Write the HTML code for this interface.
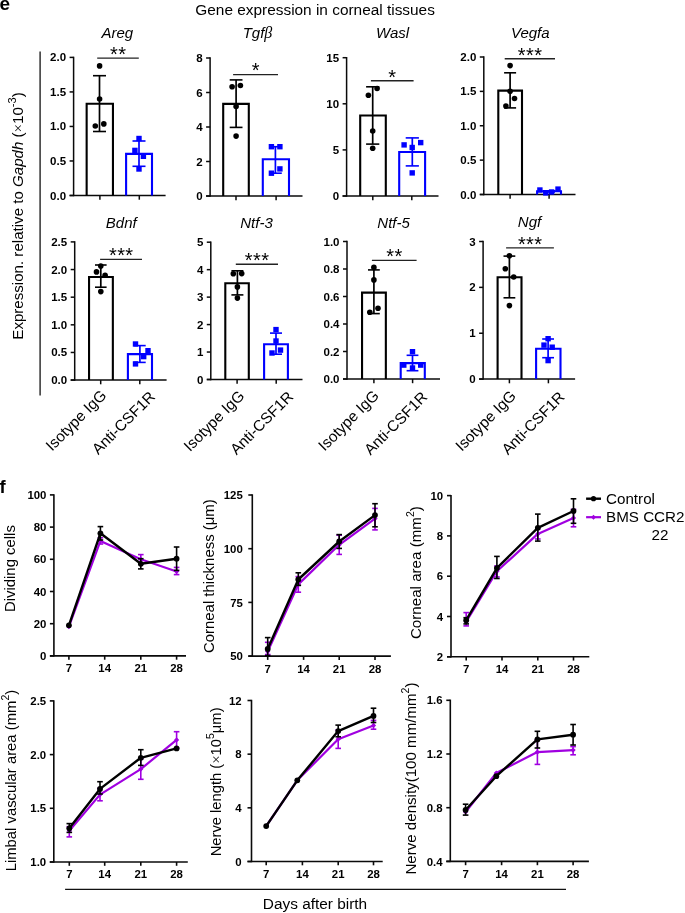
<!DOCTYPE html>
<html><head><meta charset="utf-8"><style>
html,body{margin:0;padding:0;background:#fff;}
svg{display:block;font-family:'Liberation Sans', sans-serif;will-change:transform;filter:blur(0.3px);}
</style></head><body>
<svg width="685" height="913" viewBox="0 0 685 913">
<rect width="685" height="913" fill="#fff"/>
<line x1="73.60" y1="56.70" x2="73.60" y2="196.20" stroke="#0a0a0a" stroke-width="1.5" stroke-linecap="butt"/>
<line x1="69.60" y1="195.50" x2="165.60" y2="195.50" stroke="#0a0a0a" stroke-width="1.5" stroke-linecap="butt"/>
<line x1="69.60" y1="195.50" x2="73.60" y2="195.50" stroke="#0a0a0a" stroke-width="1.5" stroke-linecap="butt"/>
<text x="66.10" y="199.50" font-size="11.5" text-anchor="end" font-weight="bold" font-style="normal" fill="#000" >0.0</text>
<line x1="69.60" y1="160.97" x2="73.60" y2="160.97" stroke="#0a0a0a" stroke-width="1.5" stroke-linecap="butt"/>
<text x="66.10" y="164.97" font-size="11.5" text-anchor="end" font-weight="bold" font-style="normal" fill="#000" >0.5</text>
<line x1="69.60" y1="126.45" x2="73.60" y2="126.45" stroke="#0a0a0a" stroke-width="1.5" stroke-linecap="butt"/>
<text x="66.10" y="130.45" font-size="11.5" text-anchor="end" font-weight="bold" font-style="normal" fill="#000" >1.0</text>
<line x1="69.60" y1="91.93" x2="73.60" y2="91.93" stroke="#0a0a0a" stroke-width="1.5" stroke-linecap="butt"/>
<text x="66.10" y="95.93" font-size="11.5" text-anchor="end" font-weight="bold" font-style="normal" fill="#000" >1.5</text>
<line x1="69.60" y1="57.40" x2="73.60" y2="57.40" stroke="#0a0a0a" stroke-width="1.5" stroke-linecap="butt"/>
<text x="66.10" y="61.40" font-size="11.5" text-anchor="end" font-weight="bold" font-style="normal" fill="#000" >2.0</text>
<line x1="99.90" y1="195.50" x2="99.90" y2="199.70" stroke="#0a0a0a" stroke-width="1.5" stroke-linecap="butt"/>
<line x1="139.30" y1="195.50" x2="139.30" y2="199.70" stroke="#0a0a0a" stroke-width="1.5" stroke-linecap="butt"/>
<path d="M86.65,195.50 V103.70 H112.95 V195.50" fill="none" stroke="#000" stroke-width="2.1" stroke-linejoin="miter"/>
<path d="M126.10,195.50 V153.90 H152.00 V195.50" fill="none" stroke="#0000ff" stroke-width="2.1" stroke-linejoin="miter"/>
<line x1="99.50" y1="75.70" x2="99.50" y2="131.50" stroke="#000" stroke-width="1.7" stroke-linecap="butt"/>
<line x1="93.00" y1="75.70" x2="106.00" y2="75.70" stroke="#000" stroke-width="1.6" stroke-linecap="butt"/>
<line x1="93.00" y1="131.50" x2="106.00" y2="131.50" stroke="#000" stroke-width="1.6" stroke-linecap="butt"/>
<line x1="139.00" y1="141.00" x2="139.00" y2="166.30" stroke="#0000ff" stroke-width="1.7" stroke-linecap="butt"/>
<line x1="132.50" y1="141.00" x2="145.50" y2="141.00" stroke="#0000ff" stroke-width="1.6" stroke-linecap="butt"/>
<line x1="132.50" y1="166.30" x2="145.50" y2="166.30" stroke="#0000ff" stroke-width="1.6" stroke-linecap="butt"/>
<circle cx="99.60" cy="65.90" r="2.8" fill="#000"/>
<circle cx="99.60" cy="99.00" r="2.8" fill="#000"/>
<circle cx="95.30" cy="126.00" r="2.8" fill="#000"/>
<circle cx="103.80" cy="123.90" r="2.8" fill="#000"/>
<rect x="136.30" y="135.80" width="5.4" height="5.4" fill="#0000ff"/>
<rect x="132.20" y="147.70" width="5.4" height="5.4" fill="#0000ff"/>
<rect x="140.70" y="153.60" width="5.4" height="5.4" fill="#0000ff"/>
<rect x="136.30" y="166.30" width="5.4" height="5.4" fill="#0000ff"/>
<line x1="97.20" y1="58.10" x2="138.80" y2="58.10" stroke="#222" stroke-width="1.4" stroke-linecap="butt"/>
<text x="118.20" y="60.90" font-size="20" text-anchor="middle" font-weight="normal" font-style="normal" fill="#000" letter-spacing="0.4">**</text>
<text x="117.30" y="37.70" font-size="15" text-anchor="middle" font-weight="normal" font-style="italic" fill="#000" >Areg</text>
<line x1="210.10" y1="57.30" x2="210.10" y2="196.70" stroke="#0a0a0a" stroke-width="1.5" stroke-linecap="butt"/>
<line x1="206.10" y1="196.00" x2="302.50" y2="196.00" stroke="#0a0a0a" stroke-width="1.5" stroke-linecap="butt"/>
<line x1="206.10" y1="196.00" x2="210.10" y2="196.00" stroke="#0a0a0a" stroke-width="1.5" stroke-linecap="butt"/>
<text x="202.60" y="200.00" font-size="11.5" text-anchor="end" font-weight="bold" font-style="normal" fill="#000" >0</text>
<line x1="206.10" y1="161.50" x2="210.10" y2="161.50" stroke="#0a0a0a" stroke-width="1.5" stroke-linecap="butt"/>
<text x="202.60" y="165.50" font-size="11.5" text-anchor="end" font-weight="bold" font-style="normal" fill="#000" >2</text>
<line x1="206.10" y1="127.00" x2="210.10" y2="127.00" stroke="#0a0a0a" stroke-width="1.5" stroke-linecap="butt"/>
<text x="202.60" y="131.00" font-size="11.5" text-anchor="end" font-weight="bold" font-style="normal" fill="#000" >4</text>
<line x1="206.10" y1="92.50" x2="210.10" y2="92.50" stroke="#0a0a0a" stroke-width="1.5" stroke-linecap="butt"/>
<text x="202.60" y="96.50" font-size="11.5" text-anchor="end" font-weight="bold" font-style="normal" fill="#000" >6</text>
<line x1="206.10" y1="58.00" x2="210.10" y2="58.00" stroke="#0a0a0a" stroke-width="1.5" stroke-linecap="butt"/>
<text x="202.60" y="62.00" font-size="11.5" text-anchor="end" font-weight="bold" font-style="normal" fill="#000" >8</text>
<line x1="236.00" y1="196.00" x2="236.00" y2="200.20" stroke="#0a0a0a" stroke-width="1.5" stroke-linecap="butt"/>
<line x1="276.10" y1="196.00" x2="276.10" y2="200.20" stroke="#0a0a0a" stroke-width="1.5" stroke-linecap="butt"/>
<path d="M223.20,196.00 V103.90 H248.80 V196.00" fill="none" stroke="#000" stroke-width="2.1" stroke-linejoin="miter"/>
<path d="M262.80,196.00 V159.20 H289.00 V196.00" fill="none" stroke="#0000ff" stroke-width="2.1" stroke-linejoin="miter"/>
<line x1="236.10" y1="79.90" x2="236.10" y2="127.40" stroke="#000" stroke-width="1.7" stroke-linecap="butt"/>
<line x1="229.70" y1="79.90" x2="242.50" y2="79.90" stroke="#000" stroke-width="1.6" stroke-linecap="butt"/>
<line x1="229.70" y1="127.40" x2="242.50" y2="127.40" stroke="#000" stroke-width="1.6" stroke-linecap="butt"/>
<line x1="275.40" y1="146.70" x2="275.40" y2="173.20" stroke="#0000ff" stroke-width="1.7" stroke-linecap="butt"/>
<line x1="269.00" y1="146.70" x2="281.80" y2="146.70" stroke="#0000ff" stroke-width="1.6" stroke-linecap="butt"/>
<line x1="269.00" y1="173.20" x2="281.80" y2="173.20" stroke="#0000ff" stroke-width="1.6" stroke-linecap="butt"/>
<circle cx="232.10" cy="86.80" r="2.8" fill="#000"/>
<circle cx="240.40" cy="85.50" r="2.8" fill="#000"/>
<circle cx="236.10" cy="106.50" r="2.8" fill="#000"/>
<circle cx="236.10" cy="136.10" r="2.8" fill="#000"/>
<rect x="268.70" y="144.00" width="5.4" height="5.4" fill="#0000ff"/>
<rect x="277.20" y="144.00" width="5.4" height="5.4" fill="#0000ff"/>
<rect x="277.20" y="166.20" width="5.4" height="5.4" fill="#0000ff"/>
<rect x="268.70" y="170.50" width="5.4" height="5.4" fill="#0000ff"/>
<line x1="233.10" y1="74.60" x2="278.00" y2="74.60" stroke="#222" stroke-width="1.4" stroke-linecap="butt"/>
<text x="255.75" y="77.40" font-size="20" text-anchor="middle" font-weight="normal" font-style="normal" fill="#000" letter-spacing="0.4">*</text>
<text x="257.50" y="37.70" font-size="15" text-anchor="middle" font-weight="normal" font-style="italic" fill="#000" >Tgf<tspan font-family="Liberation Serif" font-size="16">&#946;</tspan></text>
<line x1="346.60" y1="57.00" x2="346.60" y2="196.70" stroke="#0a0a0a" stroke-width="1.5" stroke-linecap="butt"/>
<line x1="342.60" y1="196.00" x2="438.50" y2="196.00" stroke="#0a0a0a" stroke-width="1.5" stroke-linecap="butt"/>
<line x1="342.60" y1="196.00" x2="346.60" y2="196.00" stroke="#0a0a0a" stroke-width="1.5" stroke-linecap="butt"/>
<text x="339.10" y="200.00" font-size="11.5" text-anchor="end" font-weight="bold" font-style="normal" fill="#000" >0</text>
<line x1="342.60" y1="149.90" x2="346.60" y2="149.90" stroke="#0a0a0a" stroke-width="1.5" stroke-linecap="butt"/>
<text x="339.10" y="153.90" font-size="11.5" text-anchor="end" font-weight="bold" font-style="normal" fill="#000" >5</text>
<line x1="342.60" y1="103.80" x2="346.60" y2="103.80" stroke="#0a0a0a" stroke-width="1.5" stroke-linecap="butt"/>
<text x="339.10" y="107.80" font-size="11.5" text-anchor="end" font-weight="bold" font-style="normal" fill="#000" >10</text>
<line x1="342.60" y1="57.70" x2="346.60" y2="57.70" stroke="#0a0a0a" stroke-width="1.5" stroke-linecap="butt"/>
<text x="339.10" y="61.70" font-size="11.5" text-anchor="end" font-weight="bold" font-style="normal" fill="#000" >15</text>
<line x1="372.80" y1="196.00" x2="372.80" y2="200.20" stroke="#0a0a0a" stroke-width="1.5" stroke-linecap="butt"/>
<line x1="411.80" y1="196.00" x2="411.80" y2="200.20" stroke="#0a0a0a" stroke-width="1.5" stroke-linecap="butt"/>
<path d="M360.20,196.00 V115.50 H385.80 V196.00" fill="none" stroke="#000" stroke-width="2.1" stroke-linejoin="miter"/>
<path d="M399.20,196.00 V152.00 H425.10 V196.00" fill="none" stroke="#0000ff" stroke-width="2.1" stroke-linejoin="miter"/>
<line x1="372.70" y1="86.80" x2="372.70" y2="144.10" stroke="#000" stroke-width="1.7" stroke-linecap="butt"/>
<line x1="366.10" y1="86.80" x2="379.30" y2="86.80" stroke="#000" stroke-width="1.6" stroke-linecap="butt"/>
<line x1="366.10" y1="144.10" x2="379.30" y2="144.10" stroke="#000" stroke-width="1.6" stroke-linecap="butt"/>
<line x1="412.30" y1="137.90" x2="412.30" y2="165.90" stroke="#0000ff" stroke-width="1.7" stroke-linecap="butt"/>
<line x1="405.70" y1="137.90" x2="418.90" y2="137.90" stroke="#0000ff" stroke-width="1.6" stroke-linecap="butt"/>
<line x1="405.70" y1="165.90" x2="418.90" y2="165.90" stroke="#0000ff" stroke-width="1.6" stroke-linecap="butt"/>
<circle cx="368.40" cy="95.30" r="2.8" fill="#000"/>
<circle cx="377.10" cy="88.50" r="2.8" fill="#000"/>
<circle cx="372.70" cy="131.00" r="2.8" fill="#000"/>
<circle cx="372.70" cy="148.20" r="2.8" fill="#000"/>
<rect x="401.40" y="142.20" width="5.4" height="5.4" fill="#0000ff"/>
<rect x="409.50" y="144.80" width="5.4" height="5.4" fill="#0000ff"/>
<rect x="418.00" y="139.90" width="5.4" height="5.4" fill="#0000ff"/>
<rect x="409.50" y="170.20" width="5.4" height="5.4" fill="#0000ff"/>
<line x1="370.90" y1="80.80" x2="413.60" y2="80.80" stroke="#222" stroke-width="1.4" stroke-linecap="butt"/>
<text x="392.45" y="83.60" font-size="20" text-anchor="middle" font-weight="normal" font-style="normal" fill="#000" letter-spacing="0.4">*</text>
<text x="392.60" y="37.70" font-size="15" text-anchor="middle" font-weight="normal" font-style="italic" fill="#000" >Wasl</text>
<line x1="483.80" y1="56.30" x2="483.80" y2="195.20" stroke="#0a0a0a" stroke-width="1.5" stroke-linecap="butt"/>
<line x1="479.80" y1="194.50" x2="575.50" y2="194.50" stroke="#0a0a0a" stroke-width="1.5" stroke-linecap="butt"/>
<line x1="479.80" y1="194.50" x2="483.80" y2="194.50" stroke="#0a0a0a" stroke-width="1.5" stroke-linecap="butt"/>
<text x="476.30" y="198.50" font-size="11.5" text-anchor="end" font-weight="bold" font-style="normal" fill="#000" >0.0</text>
<line x1="479.80" y1="160.12" x2="483.80" y2="160.12" stroke="#0a0a0a" stroke-width="1.5" stroke-linecap="butt"/>
<text x="476.30" y="164.12" font-size="11.5" text-anchor="end" font-weight="bold" font-style="normal" fill="#000" >0.5</text>
<line x1="479.80" y1="125.75" x2="483.80" y2="125.75" stroke="#0a0a0a" stroke-width="1.5" stroke-linecap="butt"/>
<text x="476.30" y="129.75" font-size="11.5" text-anchor="end" font-weight="bold" font-style="normal" fill="#000" >1.0</text>
<line x1="479.80" y1="91.38" x2="483.80" y2="91.38" stroke="#0a0a0a" stroke-width="1.5" stroke-linecap="butt"/>
<text x="476.30" y="95.38" font-size="11.5" text-anchor="end" font-weight="bold" font-style="normal" fill="#000" >1.5</text>
<line x1="479.80" y1="57.00" x2="483.80" y2="57.00" stroke="#0a0a0a" stroke-width="1.5" stroke-linecap="butt"/>
<text x="476.30" y="61.00" font-size="11.5" text-anchor="end" font-weight="bold" font-style="normal" fill="#000" >2.0</text>
<line x1="510.10" y1="194.50" x2="510.10" y2="198.70" stroke="#0a0a0a" stroke-width="1.5" stroke-linecap="butt"/>
<line x1="549.10" y1="194.50" x2="549.10" y2="198.70" stroke="#0a0a0a" stroke-width="1.5" stroke-linecap="butt"/>
<path d="M498.30,194.50 V90.60 H522.00 V194.50" fill="none" stroke="#000" stroke-width="2.1" stroke-linejoin="miter"/>
<path d="M537.10,194.50 V191.30 H561.00 V194.50" fill="none" stroke="#0000ff" stroke-width="2.1" stroke-linejoin="miter"/>
<line x1="510.10" y1="72.80" x2="510.10" y2="107.90" stroke="#000" stroke-width="1.7" stroke-linecap="butt"/>
<line x1="504.10" y1="72.80" x2="516.10" y2="72.80" stroke="#000" stroke-width="1.6" stroke-linecap="butt"/>
<line x1="504.10" y1="107.90" x2="516.10" y2="107.90" stroke="#000" stroke-width="1.6" stroke-linecap="butt"/>
<line x1="549.00" y1="190.80" x2="549.00" y2="192.00" stroke="#0000ff" stroke-width="1.7" stroke-linecap="butt"/>
<line x1="543.00" y1="190.80" x2="555.00" y2="190.80" stroke="#0000ff" stroke-width="1.6" stroke-linecap="butt"/>
<line x1="543.00" y1="192.00" x2="555.00" y2="192.00" stroke="#0000ff" stroke-width="1.6" stroke-linecap="butt"/>
<circle cx="510.10" cy="65.60" r="2.8" fill="#000"/>
<circle cx="510.10" cy="91.30" r="2.8" fill="#000"/>
<circle cx="514.50" cy="98.50" r="2.8" fill="#000"/>
<circle cx="505.90" cy="106.10" r="2.8" fill="#000"/>
<rect x="537.20" y="187.30" width="5.4" height="5.4" fill="#0000ff"/>
<rect x="543.10" y="190.20" width="5.4" height="5.4" fill="#0000ff"/>
<rect x="548.90" y="189.30" width="5.4" height="5.4" fill="#0000ff"/>
<rect x="555.30" y="186.40" width="5.4" height="5.4" fill="#0000ff"/>
<line x1="504.70" y1="58.70" x2="555.00" y2="58.70" stroke="#222" stroke-width="1.4" stroke-linecap="butt"/>
<text x="530.05" y="61.50" font-size="20" text-anchor="middle" font-weight="normal" font-style="normal" fill="#000" letter-spacing="0.4">***</text>
<text x="530.30" y="37.70" font-size="15" text-anchor="middle" font-weight="normal" font-style="italic" fill="#000" >Vegfa</text>
<line x1="74.70" y1="241.20" x2="74.70" y2="380.80" stroke="#0a0a0a" stroke-width="1.5" stroke-linecap="butt"/>
<line x1="70.70" y1="380.10" x2="166.60" y2="380.10" stroke="#0a0a0a" stroke-width="1.5" stroke-linecap="butt"/>
<line x1="70.70" y1="380.10" x2="74.70" y2="380.10" stroke="#0a0a0a" stroke-width="1.5" stroke-linecap="butt"/>
<text x="67.20" y="384.10" font-size="11.5" text-anchor="end" font-weight="bold" font-style="normal" fill="#000" >0.0</text>
<line x1="70.70" y1="352.46" x2="74.70" y2="352.46" stroke="#0a0a0a" stroke-width="1.5" stroke-linecap="butt"/>
<text x="67.20" y="356.46" font-size="11.5" text-anchor="end" font-weight="bold" font-style="normal" fill="#000" >0.5</text>
<line x1="70.70" y1="324.82" x2="74.70" y2="324.82" stroke="#0a0a0a" stroke-width="1.5" stroke-linecap="butt"/>
<text x="67.20" y="328.82" font-size="11.5" text-anchor="end" font-weight="bold" font-style="normal" fill="#000" >1.0</text>
<line x1="70.70" y1="297.18" x2="74.70" y2="297.18" stroke="#0a0a0a" stroke-width="1.5" stroke-linecap="butt"/>
<text x="67.20" y="301.18" font-size="11.5" text-anchor="end" font-weight="bold" font-style="normal" fill="#000" >1.5</text>
<line x1="70.70" y1="269.54" x2="74.70" y2="269.54" stroke="#0a0a0a" stroke-width="1.5" stroke-linecap="butt"/>
<text x="67.20" y="273.54" font-size="11.5" text-anchor="end" font-weight="bold" font-style="normal" fill="#000" >2.0</text>
<line x1="70.70" y1="241.90" x2="74.70" y2="241.90" stroke="#0a0a0a" stroke-width="1.5" stroke-linecap="butt"/>
<text x="67.20" y="245.90" font-size="11.5" text-anchor="end" font-weight="bold" font-style="normal" fill="#000" >2.5</text>
<line x1="100.70" y1="380.10" x2="100.70" y2="384.30" stroke="#0a0a0a" stroke-width="1.5" stroke-linecap="butt"/>
<line x1="139.80" y1="380.10" x2="139.80" y2="384.30" stroke="#0a0a0a" stroke-width="1.5" stroke-linecap="butt"/>
<path d="M89.05,380.10 V277.00 H112.85 V380.10" fill="none" stroke="#000" stroke-width="2.1" stroke-linejoin="miter"/>
<path d="M127.90,380.10 V354.10 H152.00 V380.10" fill="none" stroke="#0000ff" stroke-width="2.1" stroke-linejoin="miter"/>
<line x1="100.80" y1="265.00" x2="100.80" y2="287.20" stroke="#000" stroke-width="1.7" stroke-linecap="butt"/>
<line x1="95.00" y1="265.00" x2="106.60" y2="265.00" stroke="#000" stroke-width="1.6" stroke-linecap="butt"/>
<line x1="95.00" y1="287.20" x2="106.60" y2="287.20" stroke="#000" stroke-width="1.6" stroke-linecap="butt"/>
<line x1="139.90" y1="345.60" x2="139.90" y2="362.40" stroke="#0000ff" stroke-width="1.7" stroke-linecap="butt"/>
<line x1="134.10" y1="345.60" x2="145.70" y2="345.60" stroke="#0000ff" stroke-width="1.6" stroke-linecap="butt"/>
<line x1="134.10" y1="362.40" x2="145.70" y2="362.40" stroke="#0000ff" stroke-width="1.6" stroke-linecap="butt"/>
<circle cx="100.80" cy="266.10" r="2.8" fill="#000"/>
<circle cx="96.50" cy="271.90" r="2.8" fill="#000"/>
<circle cx="105.10" cy="275.30" r="2.8" fill="#000"/>
<circle cx="100.80" cy="291.60" r="2.8" fill="#000"/>
<rect x="132.80" y="341.30" width="5.4" height="5.4" fill="#0000ff"/>
<rect x="145.30" y="348.00" width="5.4" height="5.4" fill="#0000ff"/>
<rect x="141.00" y="353.90" width="5.4" height="5.4" fill="#0000ff"/>
<rect x="132.80" y="361.20" width="5.4" height="5.4" fill="#0000ff"/>
<line x1="100.10" y1="259.40" x2="142.00" y2="259.40" stroke="#222" stroke-width="1.4" stroke-linecap="butt"/>
<text x="121.25" y="262.20" font-size="20" text-anchor="middle" font-weight="normal" font-style="normal" fill="#000" letter-spacing="0.4">***</text>
<text x="121.30" y="227.70" font-size="15" text-anchor="middle" font-weight="normal" font-style="italic" fill="#000" >Bdnf</text>
<line x1="210.80" y1="241.50" x2="210.80" y2="380.20" stroke="#0a0a0a" stroke-width="1.5" stroke-linecap="butt"/>
<line x1="206.80" y1="379.50" x2="302.50" y2="379.50" stroke="#0a0a0a" stroke-width="1.5" stroke-linecap="butt"/>
<line x1="206.80" y1="379.50" x2="210.80" y2="379.50" stroke="#0a0a0a" stroke-width="1.5" stroke-linecap="butt"/>
<text x="203.30" y="383.50" font-size="11.5" text-anchor="end" font-weight="bold" font-style="normal" fill="#000" >0</text>
<line x1="206.80" y1="352.04" x2="210.80" y2="352.04" stroke="#0a0a0a" stroke-width="1.5" stroke-linecap="butt"/>
<text x="203.30" y="356.04" font-size="11.5" text-anchor="end" font-weight="bold" font-style="normal" fill="#000" >1</text>
<line x1="206.80" y1="324.58" x2="210.80" y2="324.58" stroke="#0a0a0a" stroke-width="1.5" stroke-linecap="butt"/>
<text x="203.30" y="328.58" font-size="11.5" text-anchor="end" font-weight="bold" font-style="normal" fill="#000" >2</text>
<line x1="206.80" y1="297.12" x2="210.80" y2="297.12" stroke="#0a0a0a" stroke-width="1.5" stroke-linecap="butt"/>
<text x="203.30" y="301.12" font-size="11.5" text-anchor="end" font-weight="bold" font-style="normal" fill="#000" >3</text>
<line x1="206.80" y1="269.66" x2="210.80" y2="269.66" stroke="#0a0a0a" stroke-width="1.5" stroke-linecap="butt"/>
<text x="203.30" y="273.66" font-size="11.5" text-anchor="end" font-weight="bold" font-style="normal" fill="#000" >4</text>
<line x1="206.80" y1="242.20" x2="210.80" y2="242.20" stroke="#0a0a0a" stroke-width="1.5" stroke-linecap="butt"/>
<text x="203.30" y="246.20" font-size="11.5" text-anchor="end" font-weight="bold" font-style="normal" fill="#000" >5</text>
<line x1="237.10" y1="379.50" x2="237.10" y2="383.70" stroke="#0a0a0a" stroke-width="1.5" stroke-linecap="butt"/>
<line x1="276.20" y1="379.50" x2="276.20" y2="383.70" stroke="#0a0a0a" stroke-width="1.5" stroke-linecap="butt"/>
<path d="M225.30,379.50 V283.30 H248.80 V379.50" fill="none" stroke="#000" stroke-width="2.1" stroke-linejoin="miter"/>
<path d="M264.10,379.50 V344.20 H287.90 V379.50" fill="none" stroke="#0000ff" stroke-width="2.1" stroke-linejoin="miter"/>
<line x1="237.40" y1="270.80" x2="237.40" y2="294.90" stroke="#000" stroke-width="1.7" stroke-linecap="butt"/>
<line x1="231.40" y1="270.80" x2="243.40" y2="270.80" stroke="#000" stroke-width="1.6" stroke-linecap="butt"/>
<line x1="231.40" y1="294.90" x2="243.40" y2="294.90" stroke="#000" stroke-width="1.6" stroke-linecap="butt"/>
<line x1="276.00" y1="333.10" x2="276.00" y2="354.20" stroke="#0000ff" stroke-width="1.7" stroke-linecap="butt"/>
<line x1="270.00" y1="333.10" x2="282.00" y2="333.10" stroke="#0000ff" stroke-width="1.6" stroke-linecap="butt"/>
<line x1="270.00" y1="354.20" x2="282.00" y2="354.20" stroke="#0000ff" stroke-width="1.6" stroke-linecap="butt"/>
<circle cx="233.30" cy="273.80" r="2.8" fill="#000"/>
<circle cx="241.70" cy="273.60" r="2.8" fill="#000"/>
<circle cx="237.40" cy="286.90" r="2.8" fill="#000"/>
<circle cx="237.40" cy="298.10" r="2.8" fill="#000"/>
<rect x="273.30" y="326.90" width="5.4" height="5.4" fill="#0000ff"/>
<rect x="273.30" y="338.30" width="5.4" height="5.4" fill="#0000ff"/>
<rect x="269.30" y="350.30" width="5.4" height="5.4" fill="#0000ff"/>
<rect x="277.80" y="347.40" width="5.4" height="5.4" fill="#0000ff"/>
<line x1="235.80" y1="264.20" x2="278.00" y2="264.20" stroke="#222" stroke-width="1.4" stroke-linecap="butt"/>
<text x="257.10" y="267.00" font-size="20" text-anchor="middle" font-weight="normal" font-style="normal" fill="#000" letter-spacing="0.4">***</text>
<text x="256.50" y="227.70" font-size="15" text-anchor="middle" font-weight="normal" font-style="italic" fill="#000" >Ntf-3</text>
<line x1="347.00" y1="240.80" x2="347.00" y2="379.70" stroke="#0a0a0a" stroke-width="1.5" stroke-linecap="butt"/>
<line x1="343.00" y1="379.00" x2="440.00" y2="379.00" stroke="#0a0a0a" stroke-width="1.5" stroke-linecap="butt"/>
<line x1="343.00" y1="379.00" x2="347.00" y2="379.00" stroke="#0a0a0a" stroke-width="1.5" stroke-linecap="butt"/>
<text x="339.50" y="383.00" font-size="11.5" text-anchor="end" font-weight="bold" font-style="normal" fill="#000" >0.0</text>
<line x1="343.00" y1="351.50" x2="347.00" y2="351.50" stroke="#0a0a0a" stroke-width="1.5" stroke-linecap="butt"/>
<text x="339.50" y="355.50" font-size="11.5" text-anchor="end" font-weight="bold" font-style="normal" fill="#000" >0.2</text>
<line x1="343.00" y1="324.00" x2="347.00" y2="324.00" stroke="#0a0a0a" stroke-width="1.5" stroke-linecap="butt"/>
<text x="339.50" y="328.00" font-size="11.5" text-anchor="end" font-weight="bold" font-style="normal" fill="#000" >0.4</text>
<line x1="343.00" y1="296.50" x2="347.00" y2="296.50" stroke="#0a0a0a" stroke-width="1.5" stroke-linecap="butt"/>
<text x="339.50" y="300.50" font-size="11.5" text-anchor="end" font-weight="bold" font-style="normal" fill="#000" >0.6</text>
<line x1="343.00" y1="269.00" x2="347.00" y2="269.00" stroke="#0a0a0a" stroke-width="1.5" stroke-linecap="butt"/>
<text x="339.50" y="273.00" font-size="11.5" text-anchor="end" font-weight="bold" font-style="normal" fill="#000" >0.8</text>
<line x1="343.00" y1="241.50" x2="347.00" y2="241.50" stroke="#0a0a0a" stroke-width="1.5" stroke-linecap="butt"/>
<text x="339.50" y="245.50" font-size="11.5" text-anchor="end" font-weight="bold" font-style="normal" fill="#000" >1.0</text>
<line x1="373.90" y1="379.00" x2="373.90" y2="383.20" stroke="#0a0a0a" stroke-width="1.5" stroke-linecap="butt"/>
<line x1="412.60" y1="379.00" x2="412.60" y2="383.20" stroke="#0a0a0a" stroke-width="1.5" stroke-linecap="butt"/>
<path d="M362.05,379.00 V292.60 H385.85 V379.00" fill="none" stroke="#000" stroke-width="2.1" stroke-linejoin="miter"/>
<path d="M400.70,379.00 V363.10 H424.80 V379.00" fill="none" stroke="#0000ff" stroke-width="2.1" stroke-linejoin="miter"/>
<line x1="373.90" y1="269.90" x2="373.90" y2="313.60" stroke="#000" stroke-width="1.7" stroke-linecap="butt"/>
<line x1="368.00" y1="269.90" x2="379.80" y2="269.90" stroke="#000" stroke-width="1.6" stroke-linecap="butt"/>
<line x1="368.00" y1="313.60" x2="379.80" y2="313.60" stroke="#000" stroke-width="1.6" stroke-linecap="butt"/>
<line x1="412.50" y1="355.30" x2="412.50" y2="370.70" stroke="#0000ff" stroke-width="1.7" stroke-linecap="butt"/>
<line x1="406.60" y1="355.30" x2="418.40" y2="355.30" stroke="#0000ff" stroke-width="1.6" stroke-linecap="butt"/>
<line x1="406.60" y1="370.70" x2="418.40" y2="370.70" stroke="#0000ff" stroke-width="1.6" stroke-linecap="butt"/>
<circle cx="373.90" cy="267.40" r="2.8" fill="#000"/>
<circle cx="373.90" cy="279.90" r="2.8" fill="#000"/>
<circle cx="369.80" cy="312.30" r="2.8" fill="#000"/>
<circle cx="378.00" cy="308.30" r="2.8" fill="#000"/>
<rect x="409.80" y="349.00" width="5.4" height="5.4" fill="#0000ff"/>
<rect x="401.10" y="362.40" width="5.4" height="5.4" fill="#0000ff"/>
<rect x="418.00" y="362.40" width="5.4" height="5.4" fill="#0000ff"/>
<rect x="409.80" y="365.30" width="5.4" height="5.4" fill="#0000ff"/>
<line x1="371.90" y1="260.40" x2="416.60" y2="260.40" stroke="#222" stroke-width="1.4" stroke-linecap="butt"/>
<text x="394.45" y="263.20" font-size="20" text-anchor="middle" font-weight="normal" font-style="normal" fill="#000" letter-spacing="0.4">**</text>
<text x="393.60" y="227.70" font-size="15" text-anchor="middle" font-weight="normal" font-style="italic" fill="#000" >Ntf-5</text>
<line x1="483.10" y1="240.80" x2="483.10" y2="379.80" stroke="#0a0a0a" stroke-width="1.5" stroke-linecap="butt"/>
<line x1="479.10" y1="379.10" x2="575.10" y2="379.10" stroke="#0a0a0a" stroke-width="1.5" stroke-linecap="butt"/>
<line x1="479.10" y1="379.10" x2="483.10" y2="379.10" stroke="#0a0a0a" stroke-width="1.5" stroke-linecap="butt"/>
<text x="475.60" y="383.10" font-size="11.5" text-anchor="end" font-weight="bold" font-style="normal" fill="#000" >0</text>
<line x1="479.10" y1="333.23" x2="483.10" y2="333.23" stroke="#0a0a0a" stroke-width="1.5" stroke-linecap="butt"/>
<text x="475.60" y="337.23" font-size="11.5" text-anchor="end" font-weight="bold" font-style="normal" fill="#000" >1</text>
<line x1="479.10" y1="287.37" x2="483.10" y2="287.37" stroke="#0a0a0a" stroke-width="1.5" stroke-linecap="butt"/>
<text x="475.60" y="291.37" font-size="11.5" text-anchor="end" font-weight="bold" font-style="normal" fill="#000" >2</text>
<line x1="479.10" y1="241.50" x2="483.10" y2="241.50" stroke="#0a0a0a" stroke-width="1.5" stroke-linecap="butt"/>
<text x="475.60" y="245.50" font-size="11.5" text-anchor="end" font-weight="bold" font-style="normal" fill="#000" >3</text>
<line x1="509.40" y1="379.10" x2="509.40" y2="383.30" stroke="#0a0a0a" stroke-width="1.5" stroke-linecap="butt"/>
<line x1="548.40" y1="379.10" x2="548.40" y2="383.30" stroke="#0a0a0a" stroke-width="1.5" stroke-linecap="butt"/>
<path d="M497.60,379.10 V277.30 H521.50 V379.10" fill="none" stroke="#000" stroke-width="2.1" stroke-linejoin="miter"/>
<path d="M536.10,379.10 V348.70 H560.50 V379.10" fill="none" stroke="#0000ff" stroke-width="2.1" stroke-linejoin="miter"/>
<line x1="509.40" y1="256.10" x2="509.40" y2="297.80" stroke="#000" stroke-width="1.7" stroke-linecap="butt"/>
<line x1="503.50" y1="256.10" x2="515.30" y2="256.10" stroke="#000" stroke-width="1.6" stroke-linecap="butt"/>
<line x1="503.50" y1="297.80" x2="515.30" y2="297.80" stroke="#000" stroke-width="1.6" stroke-linecap="butt"/>
<line x1="548.10" y1="339.00" x2="548.10" y2="357.70" stroke="#0000ff" stroke-width="1.7" stroke-linecap="butt"/>
<line x1="542.20" y1="339.00" x2="554.00" y2="339.00" stroke="#0000ff" stroke-width="1.6" stroke-linecap="butt"/>
<line x1="542.20" y1="357.70" x2="554.00" y2="357.70" stroke="#0000ff" stroke-width="1.6" stroke-linecap="butt"/>
<circle cx="509.40" cy="255.80" r="2.8" fill="#000"/>
<circle cx="505.30" cy="268.80" r="2.8" fill="#000"/>
<circle cx="513.70" cy="277.00" r="2.8" fill="#000"/>
<circle cx="509.40" cy="305.60" r="2.8" fill="#000"/>
<rect x="545.40" y="336.00" width="5.4" height="5.4" fill="#0000ff"/>
<rect x="541.30" y="342.40" width="5.4" height="5.4" fill="#0000ff"/>
<rect x="549.50" y="344.50" width="5.4" height="5.4" fill="#0000ff"/>
<rect x="545.40" y="357.90" width="5.4" height="5.4" fill="#0000ff"/>
<line x1="506.10" y1="247.90" x2="553.90" y2="247.90" stroke="#222" stroke-width="1.4" stroke-linecap="butt"/>
<text x="530.20" y="250.70" font-size="20" text-anchor="middle" font-weight="normal" font-style="normal" fill="#000" letter-spacing="0.4">***</text>
<text x="529.50" y="226.50" font-size="15" text-anchor="middle" font-weight="normal" font-style="italic" fill="#000" >Ngf</text>
<line x1="53.90" y1="494.20" x2="53.90" y2="656.60" stroke="#0a0a0a" stroke-width="1.6" stroke-linecap="butt"/>
<line x1="49.90" y1="655.90" x2="186.00" y2="655.90" stroke="#0a0a0a" stroke-width="1.6" stroke-linecap="butt"/>
<line x1="49.90" y1="655.90" x2="53.90" y2="655.90" stroke="#0a0a0a" stroke-width="1.6" stroke-linecap="butt"/>
<text x="46.40" y="660.00" font-size="11.4" text-anchor="end" font-weight="bold" font-style="normal" fill="#000" >0</text>
<line x1="49.90" y1="623.70" x2="53.90" y2="623.70" stroke="#0a0a0a" stroke-width="1.6" stroke-linecap="butt"/>
<text x="46.40" y="627.80" font-size="11.4" text-anchor="end" font-weight="bold" font-style="normal" fill="#000" >20</text>
<line x1="49.90" y1="591.50" x2="53.90" y2="591.50" stroke="#0a0a0a" stroke-width="1.6" stroke-linecap="butt"/>
<text x="46.40" y="595.60" font-size="11.4" text-anchor="end" font-weight="bold" font-style="normal" fill="#000" >40</text>
<line x1="49.90" y1="559.30" x2="53.90" y2="559.30" stroke="#0a0a0a" stroke-width="1.6" stroke-linecap="butt"/>
<text x="46.40" y="563.40" font-size="11.4" text-anchor="end" font-weight="bold" font-style="normal" fill="#000" >60</text>
<line x1="49.90" y1="527.10" x2="53.90" y2="527.10" stroke="#0a0a0a" stroke-width="1.6" stroke-linecap="butt"/>
<text x="46.40" y="531.20" font-size="11.4" text-anchor="end" font-weight="bold" font-style="normal" fill="#000" >80</text>
<line x1="49.90" y1="494.90" x2="53.90" y2="494.90" stroke="#0a0a0a" stroke-width="1.6" stroke-linecap="butt"/>
<text x="46.40" y="499.00" font-size="11.4" text-anchor="end" font-weight="bold" font-style="normal" fill="#000" >100</text>
<line x1="68.90" y1="655.90" x2="68.90" y2="659.70" stroke="#0a0a0a" stroke-width="1.6" stroke-linecap="butt"/>
<text x="68.90" y="672.30" font-size="11.4" text-anchor="middle" font-weight="bold" font-style="normal" fill="#000" >7</text>
<line x1="104.70" y1="655.90" x2="104.70" y2="659.70" stroke="#0a0a0a" stroke-width="1.6" stroke-linecap="butt"/>
<text x="104.70" y="672.30" font-size="11.4" text-anchor="middle" font-weight="bold" font-style="normal" fill="#000" >14</text>
<line x1="140.80" y1="655.90" x2="140.80" y2="659.70" stroke="#0a0a0a" stroke-width="1.6" stroke-linecap="butt"/>
<text x="140.80" y="672.30" font-size="11.4" text-anchor="middle" font-weight="bold" font-style="normal" fill="#000" >21</text>
<line x1="176.60" y1="655.90" x2="176.60" y2="659.70" stroke="#0a0a0a" stroke-width="1.6" stroke-linecap="butt"/>
<text x="176.60" y="672.30" font-size="11.4" text-anchor="middle" font-weight="bold" font-style="normal" fill="#000" >28</text>
<line x1="100.40" y1="537.80" x2="100.40" y2="544.00" stroke="#a000e0" stroke-width="1.6" stroke-linecap="butt"/>
<line x1="97.60" y1="537.80" x2="103.20" y2="537.80" stroke="#a000e0" stroke-width="1.6" stroke-linecap="butt"/>
<line x1="97.60" y1="544.00" x2="103.20" y2="544.00" stroke="#a000e0" stroke-width="1.6" stroke-linecap="butt"/>
<line x1="140.80" y1="554.60" x2="140.80" y2="564.00" stroke="#a000e0" stroke-width="1.6" stroke-linecap="butt"/>
<line x1="138.00" y1="554.60" x2="143.60" y2="554.60" stroke="#a000e0" stroke-width="1.6" stroke-linecap="butt"/>
<line x1="138.00" y1="564.00" x2="143.60" y2="564.00" stroke="#a000e0" stroke-width="1.6" stroke-linecap="butt"/>
<line x1="176.60" y1="567.40" x2="176.60" y2="574.60" stroke="#a000e0" stroke-width="1.6" stroke-linecap="butt"/>
<line x1="173.80" y1="567.40" x2="179.40" y2="567.40" stroke="#a000e0" stroke-width="1.6" stroke-linecap="butt"/>
<line x1="173.80" y1="574.60" x2="179.40" y2="574.60" stroke="#a000e0" stroke-width="1.6" stroke-linecap="butt"/>
<polyline points="68.90,626.70 100.40,540.90 140.80,559.30 176.60,571.50" fill="none" stroke="#a000e0" stroke-width="2.2" stroke-linejoin="round"/>
<path d="M66.30,626.70 L68.90,624.10 L71.50,626.70 L68.90,629.30Z" fill="#a000e0"/>
<path d="M97.80,540.90 L100.40,538.30 L103.00,540.90 L100.40,543.50Z" fill="#a000e0"/>
<path d="M138.20,559.30 L140.80,556.70 L143.40,559.30 L140.80,561.90Z" fill="#a000e0"/>
<path d="M174.00,571.50 L176.60,568.90 L179.20,571.50 L176.60,574.10Z" fill="#a000e0"/>
<line x1="100.40" y1="526.60" x2="100.40" y2="540.00" stroke="#000" stroke-width="1.6" stroke-linecap="butt"/>
<line x1="97.60" y1="526.60" x2="103.20" y2="526.60" stroke="#000" stroke-width="1.6" stroke-linecap="butt"/>
<line x1="97.60" y1="540.00" x2="103.20" y2="540.00" stroke="#000" stroke-width="1.6" stroke-linecap="butt"/>
<line x1="140.80" y1="558.70" x2="140.80" y2="568.90" stroke="#000" stroke-width="1.6" stroke-linecap="butt"/>
<line x1="138.00" y1="558.70" x2="143.60" y2="558.70" stroke="#000" stroke-width="1.6" stroke-linecap="butt"/>
<line x1="138.00" y1="568.90" x2="143.60" y2="568.90" stroke="#000" stroke-width="1.6" stroke-linecap="butt"/>
<line x1="176.60" y1="547.00" x2="176.60" y2="570.40" stroke="#000" stroke-width="1.6" stroke-linecap="butt"/>
<line x1="173.80" y1="547.00" x2="179.40" y2="547.00" stroke="#000" stroke-width="1.6" stroke-linecap="butt"/>
<line x1="173.80" y1="570.40" x2="179.40" y2="570.40" stroke="#000" stroke-width="1.6" stroke-linecap="butt"/>
<polyline points="68.90,625.30 100.40,533.30 140.80,563.80 176.60,558.70" fill="none" stroke="#000" stroke-width="2.4" stroke-linejoin="round"/>
<circle cx="68.90" cy="625.30" r="2.9" fill="#000"/>
<circle cx="100.40" cy="533.30" r="2.9" fill="#000"/>
<circle cx="140.80" cy="563.80" r="2.9" fill="#000"/>
<circle cx="176.60" cy="558.70" r="2.9" fill="#000"/>
<text x="0" y="0" transform="translate(14.80,568.60) rotate(-90)" font-size="14.9" text-anchor="middle">Dividing cells</text>
<line x1="252.30" y1="494.30" x2="252.30" y2="656.80" stroke="#0a0a0a" stroke-width="1.6" stroke-linecap="butt"/>
<line x1="248.30" y1="656.10" x2="390.90" y2="656.10" stroke="#0a0a0a" stroke-width="1.6" stroke-linecap="butt"/>
<line x1="248.30" y1="656.10" x2="252.30" y2="656.10" stroke="#0a0a0a" stroke-width="1.6" stroke-linecap="butt"/>
<text x="242.80" y="660.20" font-size="11.4" text-anchor="end" font-weight="bold" font-style="normal" fill="#000" >50</text>
<line x1="248.30" y1="602.40" x2="252.30" y2="602.40" stroke="#0a0a0a" stroke-width="1.6" stroke-linecap="butt"/>
<text x="242.80" y="606.50" font-size="11.4" text-anchor="end" font-weight="bold" font-style="normal" fill="#000" >75</text>
<line x1="248.30" y1="548.70" x2="252.30" y2="548.70" stroke="#0a0a0a" stroke-width="1.6" stroke-linecap="butt"/>
<text x="242.80" y="552.80" font-size="11.4" text-anchor="end" font-weight="bold" font-style="normal" fill="#000" >100</text>
<line x1="248.30" y1="495.00" x2="252.30" y2="495.00" stroke="#0a0a0a" stroke-width="1.6" stroke-linecap="butt"/>
<text x="242.80" y="499.10" font-size="11.4" text-anchor="end" font-weight="bold" font-style="normal" fill="#000" >125</text>
<line x1="267.70" y1="656.10" x2="267.70" y2="659.90" stroke="#0a0a0a" stroke-width="1.6" stroke-linecap="butt"/>
<text x="267.70" y="672.50" font-size="11.4" text-anchor="middle" font-weight="bold" font-style="normal" fill="#000" >7</text>
<line x1="303.60" y1="656.10" x2="303.60" y2="659.90" stroke="#0a0a0a" stroke-width="1.6" stroke-linecap="butt"/>
<text x="303.60" y="672.50" font-size="11.4" text-anchor="middle" font-weight="bold" font-style="normal" fill="#000" >14</text>
<line x1="339.20" y1="656.10" x2="339.20" y2="659.90" stroke="#0a0a0a" stroke-width="1.6" stroke-linecap="butt"/>
<text x="339.20" y="672.50" font-size="11.4" text-anchor="middle" font-weight="bold" font-style="normal" fill="#000" >21</text>
<line x1="375.00" y1="656.10" x2="375.00" y2="659.90" stroke="#0a0a0a" stroke-width="1.6" stroke-linecap="butt"/>
<text x="375.00" y="672.50" font-size="11.4" text-anchor="middle" font-weight="bold" font-style="normal" fill="#000" >28</text>
<line x1="267.70" y1="642.30" x2="267.70" y2="654.50" stroke="#a000e0" stroke-width="1.6" stroke-linecap="butt"/>
<line x1="264.90" y1="642.30" x2="270.50" y2="642.30" stroke="#a000e0" stroke-width="1.6" stroke-linecap="butt"/>
<line x1="264.90" y1="654.50" x2="270.50" y2="654.50" stroke="#a000e0" stroke-width="1.6" stroke-linecap="butt"/>
<line x1="298.30" y1="576.60" x2="298.30" y2="592.20" stroke="#a000e0" stroke-width="1.6" stroke-linecap="butt"/>
<line x1="295.50" y1="576.60" x2="301.10" y2="576.60" stroke="#a000e0" stroke-width="1.6" stroke-linecap="butt"/>
<line x1="295.50" y1="592.20" x2="301.10" y2="592.20" stroke="#a000e0" stroke-width="1.6" stroke-linecap="butt"/>
<line x1="339.20" y1="535.20" x2="339.20" y2="554.40" stroke="#a000e0" stroke-width="1.6" stroke-linecap="butt"/>
<line x1="336.40" y1="535.20" x2="342.00" y2="535.20" stroke="#a000e0" stroke-width="1.6" stroke-linecap="butt"/>
<line x1="336.40" y1="554.40" x2="342.00" y2="554.40" stroke="#a000e0" stroke-width="1.6" stroke-linecap="butt"/>
<line x1="375.00" y1="508.40" x2="375.00" y2="529.90" stroke="#a000e0" stroke-width="1.6" stroke-linecap="butt"/>
<line x1="372.20" y1="508.40" x2="377.80" y2="508.40" stroke="#a000e0" stroke-width="1.6" stroke-linecap="butt"/>
<line x1="372.20" y1="529.90" x2="377.80" y2="529.90" stroke="#a000e0" stroke-width="1.6" stroke-linecap="butt"/>
<polyline points="267.70,651.50 298.30,584.40 339.20,544.80 375.00,518.60" fill="none" stroke="#a000e0" stroke-width="2.2" stroke-linejoin="round"/>
<path d="M265.10,651.50 L267.70,648.90 L270.30,651.50 L267.70,654.10Z" fill="#a000e0"/>
<path d="M295.70,584.40 L298.30,581.80 L300.90,584.40 L298.30,587.00Z" fill="#a000e0"/>
<path d="M336.60,544.80 L339.20,542.20 L341.80,544.80 L339.20,547.40Z" fill="#a000e0"/>
<path d="M372.40,518.60 L375.00,516.00 L377.60,518.60 L375.00,521.20Z" fill="#a000e0"/>
<line x1="267.70" y1="637.60" x2="267.70" y2="655.60" stroke="#000" stroke-width="1.6" stroke-linecap="butt"/>
<line x1="264.90" y1="637.60" x2="270.50" y2="637.60" stroke="#000" stroke-width="1.6" stroke-linecap="butt"/>
<line x1="264.90" y1="655.60" x2="270.50" y2="655.60" stroke="#000" stroke-width="1.6" stroke-linecap="butt"/>
<line x1="298.30" y1="572.80" x2="298.30" y2="585.40" stroke="#000" stroke-width="1.6" stroke-linecap="butt"/>
<line x1="295.50" y1="572.80" x2="301.10" y2="572.80" stroke="#000" stroke-width="1.6" stroke-linecap="butt"/>
<line x1="295.50" y1="585.40" x2="301.10" y2="585.40" stroke="#000" stroke-width="1.6" stroke-linecap="butt"/>
<line x1="339.20" y1="534.60" x2="339.20" y2="548.40" stroke="#000" stroke-width="1.6" stroke-linecap="butt"/>
<line x1="336.40" y1="534.60" x2="342.00" y2="534.60" stroke="#000" stroke-width="1.6" stroke-linecap="butt"/>
<line x1="336.40" y1="548.40" x2="342.00" y2="548.40" stroke="#000" stroke-width="1.6" stroke-linecap="butt"/>
<line x1="375.00" y1="503.70" x2="375.00" y2="526.80" stroke="#000" stroke-width="1.6" stroke-linecap="butt"/>
<line x1="372.20" y1="503.70" x2="377.80" y2="503.70" stroke="#000" stroke-width="1.6" stroke-linecap="butt"/>
<line x1="372.20" y1="526.80" x2="377.80" y2="526.80" stroke="#000" stroke-width="1.6" stroke-linecap="butt"/>
<polyline points="267.70,649.00 298.30,579.50 339.20,541.50 375.00,515.10" fill="none" stroke="#000" stroke-width="2.4" stroke-linejoin="round"/>
<circle cx="267.70" cy="649.00" r="2.9" fill="#000"/>
<circle cx="298.30" cy="579.50" r="2.9" fill="#000"/>
<circle cx="339.20" cy="541.50" r="2.9" fill="#000"/>
<circle cx="375.00" cy="515.10" r="2.9" fill="#000"/>
<text x="0" y="0" transform="translate(213.90,576.15) rotate(-90)" font-size="14.95" text-anchor="middle">Corneal thickness (&#956;m)</text>
<line x1="451.00" y1="494.90" x2="451.00" y2="657.50" stroke="#0a0a0a" stroke-width="1.6" stroke-linecap="butt"/>
<line x1="447.00" y1="656.80" x2="589.30" y2="656.80" stroke="#0a0a0a" stroke-width="1.6" stroke-linecap="butt"/>
<line x1="447.00" y1="656.80" x2="451.00" y2="656.80" stroke="#0a0a0a" stroke-width="1.6" stroke-linecap="butt"/>
<text x="443.20" y="660.90" font-size="11.4" text-anchor="end" font-weight="bold" font-style="normal" fill="#000" >2</text>
<line x1="447.00" y1="616.50" x2="451.00" y2="616.50" stroke="#0a0a0a" stroke-width="1.6" stroke-linecap="butt"/>
<text x="443.20" y="620.60" font-size="11.4" text-anchor="end" font-weight="bold" font-style="normal" fill="#000" >4</text>
<line x1="447.00" y1="576.20" x2="451.00" y2="576.20" stroke="#0a0a0a" stroke-width="1.6" stroke-linecap="butt"/>
<text x="443.20" y="580.30" font-size="11.4" text-anchor="end" font-weight="bold" font-style="normal" fill="#000" >6</text>
<line x1="447.00" y1="535.90" x2="451.00" y2="535.90" stroke="#0a0a0a" stroke-width="1.6" stroke-linecap="butt"/>
<text x="443.20" y="540.00" font-size="11.4" text-anchor="end" font-weight="bold" font-style="normal" fill="#000" >8</text>
<line x1="447.00" y1="495.60" x2="451.00" y2="495.60" stroke="#0a0a0a" stroke-width="1.6" stroke-linecap="butt"/>
<text x="443.20" y="499.70" font-size="11.4" text-anchor="end" font-weight="bold" font-style="normal" fill="#000" >10</text>
<line x1="466.20" y1="656.80" x2="466.20" y2="660.60" stroke="#0a0a0a" stroke-width="1.6" stroke-linecap="butt"/>
<text x="466.20" y="673.20" font-size="11.4" text-anchor="middle" font-weight="bold" font-style="normal" fill="#000" >7</text>
<line x1="502.00" y1="656.80" x2="502.00" y2="660.60" stroke="#0a0a0a" stroke-width="1.6" stroke-linecap="butt"/>
<text x="502.00" y="673.20" font-size="11.4" text-anchor="middle" font-weight="bold" font-style="normal" fill="#000" >14</text>
<line x1="537.80" y1="656.80" x2="537.80" y2="660.60" stroke="#0a0a0a" stroke-width="1.6" stroke-linecap="butt"/>
<text x="537.80" y="673.20" font-size="11.4" text-anchor="middle" font-weight="bold" font-style="normal" fill="#000" >21</text>
<line x1="573.50" y1="656.80" x2="573.50" y2="660.60" stroke="#0a0a0a" stroke-width="1.6" stroke-linecap="butt"/>
<text x="573.50" y="673.20" font-size="11.4" text-anchor="middle" font-weight="bold" font-style="normal" fill="#000" >28</text>
<line x1="466.20" y1="612.60" x2="466.20" y2="625.90" stroke="#a000e0" stroke-width="1.6" stroke-linecap="butt"/>
<line x1="463.40" y1="612.60" x2="469.00" y2="612.60" stroke="#a000e0" stroke-width="1.6" stroke-linecap="butt"/>
<line x1="463.40" y1="625.90" x2="469.00" y2="625.90" stroke="#a000e0" stroke-width="1.6" stroke-linecap="butt"/>
<line x1="496.90" y1="566.00" x2="496.90" y2="576.90" stroke="#a000e0" stroke-width="1.6" stroke-linecap="butt"/>
<line x1="494.10" y1="566.00" x2="499.70" y2="566.00" stroke="#a000e0" stroke-width="1.6" stroke-linecap="butt"/>
<line x1="494.10" y1="576.90" x2="499.70" y2="576.90" stroke="#a000e0" stroke-width="1.6" stroke-linecap="butt"/>
<line x1="537.80" y1="528.80" x2="537.80" y2="539.00" stroke="#a000e0" stroke-width="1.6" stroke-linecap="butt"/>
<line x1="535.00" y1="528.80" x2="540.60" y2="528.80" stroke="#a000e0" stroke-width="1.6" stroke-linecap="butt"/>
<line x1="535.00" y1="539.00" x2="540.60" y2="539.00" stroke="#a000e0" stroke-width="1.6" stroke-linecap="butt"/>
<line x1="573.50" y1="509.40" x2="573.50" y2="526.80" stroke="#a000e0" stroke-width="1.6" stroke-linecap="butt"/>
<line x1="570.70" y1="509.40" x2="576.30" y2="509.40" stroke="#a000e0" stroke-width="1.6" stroke-linecap="butt"/>
<line x1="570.70" y1="526.80" x2="576.30" y2="526.80" stroke="#a000e0" stroke-width="1.6" stroke-linecap="butt"/>
<polyline points="466.20,621.80 496.90,571.30 537.80,533.90 573.50,518.00" fill="none" stroke="#a000e0" stroke-width="2.2" stroke-linejoin="round"/>
<path d="M463.60,621.80 L466.20,619.20 L468.80,621.80 L466.20,624.40Z" fill="#a000e0"/>
<path d="M494.30,571.30 L496.90,568.70 L499.50,571.30 L496.90,573.90Z" fill="#a000e0"/>
<path d="M535.20,533.90 L537.80,531.30 L540.40,533.90 L537.80,536.50Z" fill="#a000e0"/>
<path d="M570.90,518.00 L573.50,515.40 L576.10,518.00 L573.50,520.60Z" fill="#a000e0"/>
<line x1="466.20" y1="617.70" x2="466.20" y2="623.90" stroke="#000" stroke-width="1.6" stroke-linecap="butt"/>
<line x1="463.40" y1="617.70" x2="469.00" y2="617.70" stroke="#000" stroke-width="1.6" stroke-linecap="butt"/>
<line x1="463.40" y1="623.90" x2="469.00" y2="623.90" stroke="#000" stroke-width="1.6" stroke-linecap="butt"/>
<line x1="496.90" y1="556.40" x2="496.90" y2="578.50" stroke="#000" stroke-width="1.6" stroke-linecap="butt"/>
<line x1="494.10" y1="556.40" x2="499.70" y2="556.40" stroke="#000" stroke-width="1.6" stroke-linecap="butt"/>
<line x1="494.10" y1="578.50" x2="499.70" y2="578.50" stroke="#000" stroke-width="1.6" stroke-linecap="butt"/>
<line x1="537.80" y1="514.10" x2="537.80" y2="541.10" stroke="#000" stroke-width="1.6" stroke-linecap="butt"/>
<line x1="535.00" y1="514.10" x2="540.60" y2="514.10" stroke="#000" stroke-width="1.6" stroke-linecap="butt"/>
<line x1="535.00" y1="541.10" x2="540.60" y2="541.10" stroke="#000" stroke-width="1.6" stroke-linecap="butt"/>
<line x1="573.50" y1="498.80" x2="573.50" y2="523.30" stroke="#000" stroke-width="1.6" stroke-linecap="butt"/>
<line x1="570.70" y1="498.80" x2="576.30" y2="498.80" stroke="#000" stroke-width="1.6" stroke-linecap="butt"/>
<line x1="570.70" y1="523.30" x2="576.30" y2="523.30" stroke="#000" stroke-width="1.6" stroke-linecap="butt"/>
<polyline points="466.20,620.20 496.90,568.10 537.80,527.80 573.50,511.00" fill="none" stroke="#000" stroke-width="2.4" stroke-linejoin="round"/>
<circle cx="466.20" cy="620.20" r="2.9" fill="#000"/>
<circle cx="496.90" cy="568.10" r="2.9" fill="#000"/>
<circle cx="537.80" cy="527.80" r="2.9" fill="#000"/>
<circle cx="573.50" cy="511.00" r="2.9" fill="#000"/>
<text x="0" y="0" transform="translate(420.60,572.65) rotate(-90)" font-size="15.15" text-anchor="middle">Corneal area (mm<tspan dy="-6.5" font-size="10.5">2</tspan><tspan dy="6.5">)</tspan></text>
<line x1="53.80" y1="700.20" x2="53.80" y2="862.70" stroke="#0a0a0a" stroke-width="1.6" stroke-linecap="butt"/>
<line x1="49.80" y1="862.00" x2="187.80" y2="862.00" stroke="#0a0a0a" stroke-width="1.6" stroke-linecap="butt"/>
<line x1="49.80" y1="862.00" x2="53.80" y2="862.00" stroke="#0a0a0a" stroke-width="1.6" stroke-linecap="butt"/>
<text x="46.20" y="866.10" font-size="11.4" text-anchor="end" font-weight="bold" font-style="normal" fill="#000" >1.0</text>
<line x1="49.80" y1="808.30" x2="53.80" y2="808.30" stroke="#0a0a0a" stroke-width="1.6" stroke-linecap="butt"/>
<text x="46.20" y="812.40" font-size="11.4" text-anchor="end" font-weight="bold" font-style="normal" fill="#000" >1.5</text>
<line x1="49.80" y1="754.60" x2="53.80" y2="754.60" stroke="#0a0a0a" stroke-width="1.6" stroke-linecap="butt"/>
<text x="46.20" y="758.70" font-size="11.4" text-anchor="end" font-weight="bold" font-style="normal" fill="#000" >2.0</text>
<line x1="49.80" y1="700.90" x2="53.80" y2="700.90" stroke="#0a0a0a" stroke-width="1.6" stroke-linecap="butt"/>
<text x="46.20" y="705.00" font-size="11.4" text-anchor="end" font-weight="bold" font-style="normal" fill="#000" >2.5</text>
<line x1="69.30" y1="862.00" x2="69.30" y2="865.80" stroke="#0a0a0a" stroke-width="1.6" stroke-linecap="butt"/>
<text x="69.30" y="878.40" font-size="11.4" text-anchor="middle" font-weight="bold" font-style="normal" fill="#000" >7</text>
<line x1="104.70" y1="862.00" x2="104.70" y2="865.80" stroke="#0a0a0a" stroke-width="1.6" stroke-linecap="butt"/>
<text x="104.70" y="878.40" font-size="11.4" text-anchor="middle" font-weight="bold" font-style="normal" fill="#000" >14</text>
<line x1="140.80" y1="862.00" x2="140.80" y2="865.80" stroke="#0a0a0a" stroke-width="1.6" stroke-linecap="butt"/>
<text x="140.80" y="878.40" font-size="11.4" text-anchor="middle" font-weight="bold" font-style="normal" fill="#000" >21</text>
<line x1="176.60" y1="862.00" x2="176.60" y2="865.80" stroke="#0a0a0a" stroke-width="1.6" stroke-linecap="butt"/>
<text x="176.60" y="878.40" font-size="11.4" text-anchor="middle" font-weight="bold" font-style="normal" fill="#000" >28</text>
<line x1="69.30" y1="826.70" x2="69.30" y2="836.90" stroke="#a000e0" stroke-width="1.6" stroke-linecap="butt"/>
<line x1="66.50" y1="826.70" x2="72.10" y2="826.70" stroke="#a000e0" stroke-width="1.6" stroke-linecap="butt"/>
<line x1="66.50" y1="836.90" x2="72.10" y2="836.90" stroke="#a000e0" stroke-width="1.6" stroke-linecap="butt"/>
<line x1="100.00" y1="788.40" x2="100.00" y2="800.80" stroke="#a000e0" stroke-width="1.6" stroke-linecap="butt"/>
<line x1="97.20" y1="788.40" x2="102.80" y2="788.40" stroke="#a000e0" stroke-width="1.6" stroke-linecap="butt"/>
<line x1="97.20" y1="800.80" x2="102.80" y2="800.80" stroke="#a000e0" stroke-width="1.6" stroke-linecap="butt"/>
<line x1="140.80" y1="758.90" x2="140.80" y2="779.30" stroke="#a000e0" stroke-width="1.6" stroke-linecap="butt"/>
<line x1="138.00" y1="758.90" x2="143.60" y2="758.90" stroke="#a000e0" stroke-width="1.6" stroke-linecap="butt"/>
<line x1="138.00" y1="779.30" x2="143.60" y2="779.30" stroke="#a000e0" stroke-width="1.6" stroke-linecap="butt"/>
<line x1="176.60" y1="731.70" x2="176.60" y2="748.10" stroke="#a000e0" stroke-width="1.6" stroke-linecap="butt"/>
<line x1="173.80" y1="731.70" x2="179.40" y2="731.70" stroke="#a000e0" stroke-width="1.6" stroke-linecap="butt"/>
<line x1="173.80" y1="748.10" x2="179.40" y2="748.10" stroke="#a000e0" stroke-width="1.6" stroke-linecap="butt"/>
<polyline points="69.30,830.80 100.00,794.60 140.80,769.10 176.60,739.90" fill="none" stroke="#a000e0" stroke-width="2.2" stroke-linejoin="round"/>
<path d="M66.70,830.80 L69.30,828.20 L71.90,830.80 L69.30,833.40Z" fill="#a000e0"/>
<path d="M97.40,794.60 L100.00,792.00 L102.60,794.60 L100.00,797.20Z" fill="#a000e0"/>
<path d="M138.20,769.10 L140.80,766.50 L143.40,769.10 L140.80,771.70Z" fill="#a000e0"/>
<path d="M174.00,739.90 L176.60,737.30 L179.20,739.90 L176.60,742.50Z" fill="#a000e0"/>
<line x1="69.30" y1="823.60" x2="69.30" y2="832.40" stroke="#000" stroke-width="1.6" stroke-linecap="butt"/>
<line x1="66.50" y1="823.60" x2="72.10" y2="823.60" stroke="#000" stroke-width="1.6" stroke-linecap="butt"/>
<line x1="66.50" y1="832.40" x2="72.10" y2="832.40" stroke="#000" stroke-width="1.6" stroke-linecap="butt"/>
<line x1="100.00" y1="781.70" x2="100.00" y2="794.00" stroke="#000" stroke-width="1.6" stroke-linecap="butt"/>
<line x1="97.20" y1="781.70" x2="102.80" y2="781.70" stroke="#000" stroke-width="1.6" stroke-linecap="butt"/>
<line x1="97.20" y1="794.00" x2="102.80" y2="794.00" stroke="#000" stroke-width="1.6" stroke-linecap="butt"/>
<line x1="140.80" y1="749.70" x2="140.80" y2="765.40" stroke="#000" stroke-width="1.6" stroke-linecap="butt"/>
<line x1="138.00" y1="749.70" x2="143.60" y2="749.70" stroke="#000" stroke-width="1.6" stroke-linecap="butt"/>
<line x1="138.00" y1="765.40" x2="143.60" y2="765.40" stroke="#000" stroke-width="1.6" stroke-linecap="butt"/>
<polyline points="69.30,828.30 100.00,788.90 140.80,757.80 176.60,748.40" fill="none" stroke="#000" stroke-width="2.4" stroke-linejoin="round"/>
<circle cx="69.30" cy="828.30" r="2.9" fill="#000"/>
<circle cx="100.00" cy="788.90" r="2.9" fill="#000"/>
<circle cx="140.80" cy="757.80" r="2.9" fill="#000"/>
<circle cx="176.60" cy="748.40" r="2.9" fill="#000"/>
<text x="0" y="0" transform="translate(15.70,780.55) rotate(-90)" font-size="14.85" text-anchor="middle">Limbal vascular area (mm<tspan dy="-6.5" font-size="10.5">2</tspan><tspan dy="6.5">)</tspan></text>
<line x1="251.50" y1="699.80" x2="251.50" y2="862.20" stroke="#0a0a0a" stroke-width="1.6" stroke-linecap="butt"/>
<line x1="247.50" y1="861.50" x2="382.70" y2="861.50" stroke="#0a0a0a" stroke-width="1.6" stroke-linecap="butt"/>
<line x1="247.50" y1="861.50" x2="251.50" y2="861.50" stroke="#0a0a0a" stroke-width="1.6" stroke-linecap="butt"/>
<text x="241.70" y="865.60" font-size="11.4" text-anchor="end" font-weight="bold" font-style="normal" fill="#000" >0</text>
<line x1="247.50" y1="807.83" x2="251.50" y2="807.83" stroke="#0a0a0a" stroke-width="1.6" stroke-linecap="butt"/>
<text x="241.70" y="811.93" font-size="11.4" text-anchor="end" font-weight="bold" font-style="normal" fill="#000" >4</text>
<line x1="247.50" y1="754.17" x2="251.50" y2="754.17" stroke="#0a0a0a" stroke-width="1.6" stroke-linecap="butt"/>
<text x="241.70" y="758.27" font-size="11.4" text-anchor="end" font-weight="bold" font-style="normal" fill="#000" >8</text>
<line x1="247.50" y1="700.50" x2="251.50" y2="700.50" stroke="#0a0a0a" stroke-width="1.6" stroke-linecap="butt"/>
<text x="241.70" y="704.60" font-size="11.4" text-anchor="end" font-weight="bold" font-style="normal" fill="#000" >12</text>
<line x1="266.20" y1="861.50" x2="266.20" y2="865.30" stroke="#0a0a0a" stroke-width="1.6" stroke-linecap="butt"/>
<text x="266.20" y="877.90" font-size="11.4" text-anchor="middle" font-weight="bold" font-style="normal" fill="#000" >7</text>
<line x1="302.40" y1="861.50" x2="302.40" y2="865.30" stroke="#0a0a0a" stroke-width="1.6" stroke-linecap="butt"/>
<text x="302.40" y="877.90" font-size="11.4" text-anchor="middle" font-weight="bold" font-style="normal" fill="#000" >14</text>
<line x1="338.20" y1="861.50" x2="338.20" y2="865.30" stroke="#0a0a0a" stroke-width="1.6" stroke-linecap="butt"/>
<text x="338.20" y="877.90" font-size="11.4" text-anchor="middle" font-weight="bold" font-style="normal" fill="#000" >21</text>
<line x1="373.50" y1="861.50" x2="373.50" y2="865.30" stroke="#0a0a0a" stroke-width="1.6" stroke-linecap="butt"/>
<text x="373.50" y="877.90" font-size="11.4" text-anchor="middle" font-weight="bold" font-style="normal" fill="#000" >28</text>
<line x1="338.20" y1="730.00" x2="338.20" y2="748.40" stroke="#a000e0" stroke-width="1.6" stroke-linecap="butt"/>
<line x1="335.40" y1="730.00" x2="341.00" y2="730.00" stroke="#a000e0" stroke-width="1.6" stroke-linecap="butt"/>
<line x1="335.40" y1="748.40" x2="341.00" y2="748.40" stroke="#a000e0" stroke-width="1.6" stroke-linecap="butt"/>
<line x1="373.50" y1="720.40" x2="373.50" y2="729.20" stroke="#a000e0" stroke-width="1.6" stroke-linecap="butt"/>
<line x1="370.70" y1="720.40" x2="376.30" y2="720.40" stroke="#a000e0" stroke-width="1.6" stroke-linecap="butt"/>
<line x1="370.70" y1="729.20" x2="376.30" y2="729.20" stroke="#a000e0" stroke-width="1.6" stroke-linecap="butt"/>
<polyline points="266.20,826.10 297.30,780.30 338.20,739.20 373.50,725.50" fill="none" stroke="#a000e0" stroke-width="2.2" stroke-linejoin="round"/>
<path d="M263.60,826.10 L266.20,823.50 L268.80,826.10 L266.20,828.70Z" fill="#a000e0"/>
<path d="M294.70,780.30 L297.30,777.70 L299.90,780.30 L297.30,782.90Z" fill="#a000e0"/>
<path d="M335.60,739.20 L338.20,736.60 L340.80,739.20 L338.20,741.80Z" fill="#a000e0"/>
<path d="M370.90,725.50 L373.50,722.90 L376.10,725.50 L373.50,728.10Z" fill="#a000e0"/>
<line x1="338.20" y1="725.10" x2="338.20" y2="736.80" stroke="#000" stroke-width="1.6" stroke-linecap="butt"/>
<line x1="335.40" y1="725.10" x2="341.00" y2="725.10" stroke="#000" stroke-width="1.6" stroke-linecap="butt"/>
<line x1="335.40" y1="736.80" x2="341.00" y2="736.80" stroke="#000" stroke-width="1.6" stroke-linecap="butt"/>
<line x1="373.50" y1="708.20" x2="373.50" y2="722.50" stroke="#000" stroke-width="1.6" stroke-linecap="butt"/>
<line x1="370.70" y1="708.20" x2="376.30" y2="708.20" stroke="#000" stroke-width="1.6" stroke-linecap="butt"/>
<line x1="370.70" y1="722.50" x2="376.30" y2="722.50" stroke="#000" stroke-width="1.6" stroke-linecap="butt"/>
<polyline points="266.20,826.10 297.30,780.30 338.20,731.10 373.50,715.90" fill="none" stroke="#000" stroke-width="2.4" stroke-linejoin="round"/>
<circle cx="266.20" cy="826.10" r="2.9" fill="#000"/>
<circle cx="297.30" cy="780.30" r="2.9" fill="#000"/>
<circle cx="338.20" cy="731.10" r="2.9" fill="#000"/>
<circle cx="373.50" cy="715.90" r="2.9" fill="#000"/>
<text x="0" y="0" transform="translate(220.60,781.90) rotate(-90)" font-size="14.75" text-anchor="middle">Nerve length (<tspan font-family="Liberation Serif">&#215;</tspan>10<tspan dy="-6.5" font-size="10.5">5</tspan><tspan dy="6.5">&#956;m)</tspan></text>
<line x1="450.30" y1="699.60" x2="450.30" y2="862.10" stroke="#0a0a0a" stroke-width="1.6" stroke-linecap="butt"/>
<line x1="446.30" y1="861.40" x2="588.90" y2="861.40" stroke="#0a0a0a" stroke-width="1.6" stroke-linecap="butt"/>
<line x1="446.30" y1="861.40" x2="450.30" y2="861.40" stroke="#0a0a0a" stroke-width="1.6" stroke-linecap="butt"/>
<text x="442.60" y="865.50" font-size="11.4" text-anchor="end" font-weight="bold" font-style="normal" fill="#000" >0.4</text>
<line x1="446.30" y1="807.70" x2="450.30" y2="807.70" stroke="#0a0a0a" stroke-width="1.6" stroke-linecap="butt"/>
<text x="442.60" y="811.80" font-size="11.4" text-anchor="end" font-weight="bold" font-style="normal" fill="#000" >0.8</text>
<line x1="446.30" y1="754.00" x2="450.30" y2="754.00" stroke="#0a0a0a" stroke-width="1.6" stroke-linecap="butt"/>
<text x="442.60" y="758.10" font-size="11.4" text-anchor="end" font-weight="bold" font-style="normal" fill="#000" >1.2</text>
<line x1="446.30" y1="700.30" x2="450.30" y2="700.30" stroke="#0a0a0a" stroke-width="1.6" stroke-linecap="butt"/>
<text x="442.60" y="704.40" font-size="11.4" text-anchor="end" font-weight="bold" font-style="normal" fill="#000" >1.6</text>
<line x1="465.60" y1="861.40" x2="465.60" y2="865.20" stroke="#0a0a0a" stroke-width="1.6" stroke-linecap="butt"/>
<text x="465.60" y="877.80" font-size="11.4" text-anchor="middle" font-weight="bold" font-style="normal" fill="#000" >7</text>
<line x1="501.60" y1="861.40" x2="501.60" y2="865.20" stroke="#0a0a0a" stroke-width="1.6" stroke-linecap="butt"/>
<text x="501.60" y="877.80" font-size="11.4" text-anchor="middle" font-weight="bold" font-style="normal" fill="#000" >14</text>
<line x1="537.40" y1="861.40" x2="537.40" y2="865.20" stroke="#0a0a0a" stroke-width="1.6" stroke-linecap="butt"/>
<text x="537.40" y="877.80" font-size="11.4" text-anchor="middle" font-weight="bold" font-style="normal" fill="#000" >21</text>
<line x1="573.10" y1="861.40" x2="573.10" y2="865.20" stroke="#0a0a0a" stroke-width="1.6" stroke-linecap="butt"/>
<text x="573.10" y="877.80" font-size="11.4" text-anchor="middle" font-weight="bold" font-style="normal" fill="#000" >28</text>
<line x1="537.40" y1="739.80" x2="537.40" y2="764.40" stroke="#a000e0" stroke-width="1.6" stroke-linecap="butt"/>
<line x1="534.60" y1="739.80" x2="540.20" y2="739.80" stroke="#a000e0" stroke-width="1.6" stroke-linecap="butt"/>
<line x1="534.60" y1="764.40" x2="540.20" y2="764.40" stroke="#a000e0" stroke-width="1.6" stroke-linecap="butt"/>
<line x1="573.10" y1="746.60" x2="573.10" y2="754.80" stroke="#a000e0" stroke-width="1.6" stroke-linecap="butt"/>
<line x1="570.30" y1="746.60" x2="575.90" y2="746.60" stroke="#a000e0" stroke-width="1.6" stroke-linecap="butt"/>
<line x1="570.30" y1="754.80" x2="575.90" y2="754.80" stroke="#a000e0" stroke-width="1.6" stroke-linecap="butt"/>
<polyline points="465.60,812.00 496.30,773.00 537.40,752.10 573.10,750.10" fill="none" stroke="#a000e0" stroke-width="2.2" stroke-linejoin="round"/>
<path d="M463.00,812.00 L465.60,809.40 L468.20,812.00 L465.60,814.60Z" fill="#a000e0"/>
<path d="M493.70,773.00 L496.30,770.40 L498.90,773.00 L496.30,775.60Z" fill="#a000e0"/>
<path d="M534.80,752.10 L537.40,749.50 L540.00,752.10 L537.40,754.70Z" fill="#a000e0"/>
<path d="M570.50,750.10 L573.10,747.50 L575.70,750.10 L573.10,752.70Z" fill="#a000e0"/>
<line x1="465.60" y1="804.20" x2="465.60" y2="815.10" stroke="#000" stroke-width="1.6" stroke-linecap="butt"/>
<line x1="462.80" y1="804.20" x2="468.40" y2="804.20" stroke="#000" stroke-width="1.6" stroke-linecap="butt"/>
<line x1="462.80" y1="815.10" x2="468.40" y2="815.10" stroke="#000" stroke-width="1.6" stroke-linecap="butt"/>
<line x1="537.40" y1="731.30" x2="537.40" y2="748.00" stroke="#000" stroke-width="1.6" stroke-linecap="butt"/>
<line x1="534.60" y1="731.30" x2="540.20" y2="731.30" stroke="#000" stroke-width="1.6" stroke-linecap="butt"/>
<line x1="534.60" y1="748.00" x2="540.20" y2="748.00" stroke="#000" stroke-width="1.6" stroke-linecap="butt"/>
<line x1="573.10" y1="724.50" x2="573.10" y2="745.00" stroke="#000" stroke-width="1.6" stroke-linecap="butt"/>
<line x1="570.30" y1="724.50" x2="575.90" y2="724.50" stroke="#000" stroke-width="1.6" stroke-linecap="butt"/>
<line x1="570.30" y1="745.00" x2="575.90" y2="745.00" stroke="#000" stroke-width="1.6" stroke-linecap="butt"/>
<polyline points="465.60,810.00 496.30,776.20 537.40,739.40 573.10,734.70" fill="none" stroke="#000" stroke-width="2.4" stroke-linejoin="round"/>
<circle cx="465.60" cy="810.00" r="2.9" fill="#000"/>
<circle cx="496.30" cy="776.20" r="2.9" fill="#000"/>
<circle cx="537.40" cy="739.40" r="2.9" fill="#000"/>
<circle cx="573.10" cy="734.70" r="2.9" fill="#000"/>
<text x="0" y="0" transform="translate(415.70,778.60) rotate(-90)" font-size="15.1" text-anchor="middle">Nerve density(100 mm/mm<tspan dy="-6.5" font-size="10.5">2</tspan><tspan dy="6.5">)</tspan></text>
<text x="-0.50" y="9.60" font-size="19" text-anchor="start" font-weight="bold" font-style="normal" fill="#000" >e</text>
<text x="315.10" y="14.60" font-size="15.4" text-anchor="middle" font-weight="normal" font-style="normal" fill="#000" >Gene expression in corneal tissues</text>
<line x1="40.10" y1="51.40" x2="40.10" y2="395.50" stroke="#222" stroke-width="1.4" stroke-linecap="butt"/>
<text x="0" y="0" transform="translate(23.0,216.0) rotate(-90)" font-size="15.1" text-anchor="middle">Expression. relative to <tspan font-style="italic">Gapdh</tspan> (<tspan font-family="Liberation Serif">&#215;</tspan>10<tspan dy="-7.5" font-size="11">-3</tspan><tspan dy="7.5">)</tspan></text>
<text x="0" y="0" transform="translate(107.30,396.40) rotate(-45)" font-size="15.3" text-anchor="end">Isotype IgG</text>
<text x="0" y="0" transform="translate(156.00,397.60) rotate(-45)" font-size="15.3" text-anchor="end">Anti-CSF1R</text>
<text x="0" y="0" transform="translate(245.30,396.90) rotate(-45)" font-size="15.3" text-anchor="end">Isotype IgG</text>
<text x="0" y="0" transform="translate(294.20,397.70) rotate(-45)" font-size="15.3" text-anchor="end">Anti-CSF1R</text>
<text x="0" y="0" transform="translate(379.80,396.50) rotate(-45)" font-size="15.3" text-anchor="end">Isotype IgG</text>
<text x="0" y="0" transform="translate(428.30,398.00) rotate(-45)" font-size="15.3" text-anchor="end">Anti-CSF1R</text>
<text x="0" y="0" transform="translate(517.00,396.80) rotate(-45)" font-size="15.3" text-anchor="end">Isotype IgG</text>
<text x="0" y="0" transform="translate(565.60,397.90) rotate(-45)" font-size="15.3" text-anchor="end">Anti-CSF1R</text>
<text x="-0.50" y="492.70" font-size="18.5" text-anchor="start" font-weight="bold" font-style="normal" fill="#000" >f</text>
<line x1="65.10" y1="889.30" x2="566.00" y2="889.30" stroke="#111" stroke-width="1.35" stroke-linecap="butt"/>
<text x="315.00" y="908.90" font-size="15.4" text-anchor="middle" font-weight="normal" font-style="normal" fill="#000" >Days after birth</text>
<line x1="586.10" y1="498.70" x2="601.00" y2="498.70" stroke="#000" stroke-width="2.4" stroke-linecap="butt"/>
<circle cx="593.5" cy="498.7" r="2.6" fill="#000"/>
<line x1="586.10" y1="517.20" x2="601.00" y2="517.20" stroke="#a000e0" stroke-width="2.2" stroke-linecap="butt"/>
<path d="M591,517.2 L593.5,514.7 L596,517.2 L593.5,519.7Z" fill="#a000e0"/>
<text x="606.00" y="503.80" font-size="15.2" text-anchor="start" font-weight="normal" font-style="normal" fill="#000" >Control</text>
<text x="606.00" y="522.20" font-size="15.2" text-anchor="start" font-weight="normal" font-style="normal" fill="#000" >BMS CCR2</text>
<text x="660.00" y="540.00" font-size="15.2" text-anchor="middle" font-weight="normal" font-style="normal" fill="#000" >22</text>
</svg>
</body></html>
